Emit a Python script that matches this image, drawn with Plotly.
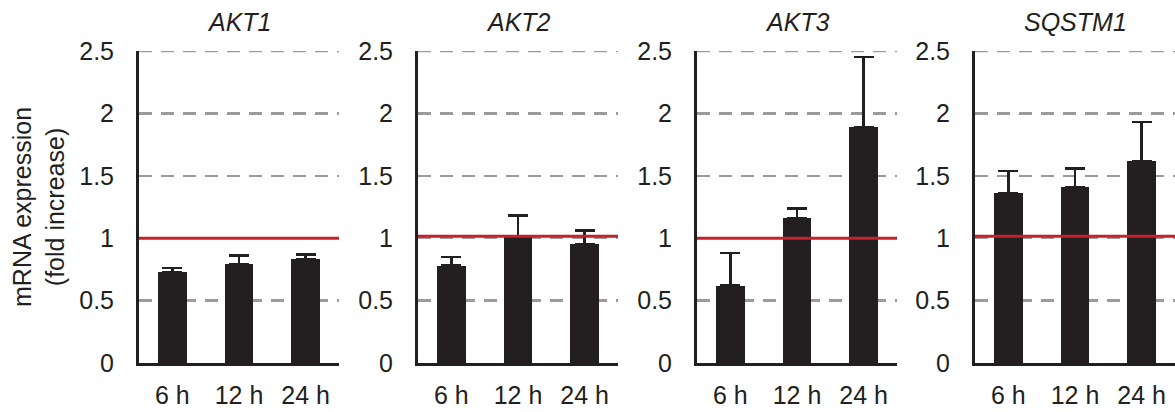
import plotly.graph_objects as go

W, H = 1175, 412

genes = ["AKT1", "AKT2", "AKT3", "SQSTM1"]
timepoints = ["6 h", "12 h", "24 h"]
akt1_values = [0.73, 0.79, 0.83]
akt1_errors = [0.03, 0.07, 0.04]
akt2_values = [0.78, 1.01, 0.95]
akt2_errors = [0.07, 0.17, 0.11]
akt3_values = [0.62, 1.16, 1.89]
akt3_errors = [0.26, 0.08, 0.56]
sqstm1_values = [1.36, 1.41, 1.62]
sqstm1_errors = [0.18, 0.15, 0.31]
reference_levels = [1.0, 1.015, 1.0, 1.015]
y_ticks = [0, 0.5, 1, 1.5, 2, 2.5]
y_tick_labels = ["0", "0.5", "1", "1.5", "2", "2.5"]

values = [akt1_values, akt2_values, akt3_values, sqstm1_values]
errors = [akt1_errors, akt2_errors, akt3_errors, sqstm1_errors]

FONT = "Liberation Sans, Arial, sans-serif"
INK = "#231f20"
RED = "#c4212b"
GRID = "#9b9b9b"
DASH = "13px,9px"

panel_left = [139, 418, 697, 975]
panel_w = 200
y_bottom_px, y_top_px = 363, 51

fig = go.Figure()
for i in range(4):
    ax = "" if i == 0 else str(i + 1)
    fig.add_trace(go.Bar(
        x=timepoints, y=values[i],
        xaxis="x" + ax, yaxis="y" + ax,
        marker=dict(color=INK, line=dict(width=0)),
        width=0.43,
        error_y=dict(type="data", array=errors[i], arrayminus=[0] * 3,
                     symmetric=False, color=INK, thickness=2.5, width=10),
        showlegend=False,
    ))
    x0 = panel_left[i] / W
    x1 = min((panel_left[i] + panel_w) / W, 1.0)
    xa = dict(domain=[x0, x1], anchor="y" + ax, type="category", automargin=False,
              range=[-0.5, 2.5], showline=True, linecolor=INK, linewidth=3,
              showgrid=False, ticks="", ticklabelstandoff=8,
              tickfont=dict(family=FONT, size=25, color=INK), fixedrange=True)
    ya = dict(domain=[(H - y_bottom_px) / H, (H - y_top_px) / H], anchor="x" + ax,
              automargin=False,
              range=[y_ticks[0], y_ticks[-1]], tickvals=y_ticks, ticktext=y_tick_labels,
              showline=True, linecolor=INK, linewidth=3,
              showgrid=True, gridcolor=GRID, gridwidth=2.5, griddash=DASH,
              zeroline=False, ticks="", ticklabelstandoff=17,
              tickfont=dict(family=FONT, size=25, color=INK), fixedrange=True)
    fig.layout["xaxis" + ax] = xa
    fig.layout["yaxis" + ax] = ya
    # top gridline (plotly omits the grid line at the range edge)
    fig.add_shape(type="line", xref="x" + ax + " domain", yref="y" + ax,
                  x0=0, x1=1, y0=y_ticks[-1], y1=y_ticks[-1],
                  line=dict(color=GRID, width=2.5, dash=DASH), layer="below")
    fig.add_shape(type="line", xref="x" + ax + " domain", yref="y" + ax,
                  x0=0, x1=1, y0=reference_levels[i], y1=reference_levels[i],
                  line=dict(color=RED, width=3), layer="above")
    fig.add_annotation(text="<i>" + genes[i] + "</i>", xref="paper", yref="paper",
                       x=(panel_left[i] + panel_w / 2) / W, y=(H - 22) / H,
                       xanchor="center", yanchor="middle", showarrow=False,
                       font=dict(family=FONT, size=25, color=INK))

fig.add_annotation(text="mRNA expression<br>(fold increase)", xref="paper", yref="paper",
                   x=38 / W, y=(H - 207) / H, xanchor="center", yanchor="middle",
                   textangle=-90, showarrow=False,
                   font=dict(family=FONT, size=25, color=INK))

fig.update_layout(width=W, height=H, margin=dict(l=0, r=0, t=0, b=0, autoexpand=False),
                  plot_bgcolor="white", paper_bgcolor="white", bargap=0)
fig.write_html("out.html", config={"displayModeBar": False, "staticPlot": True},
               post_script="document.body.style.margin='0';document.body.style.overflow='hidden';")
